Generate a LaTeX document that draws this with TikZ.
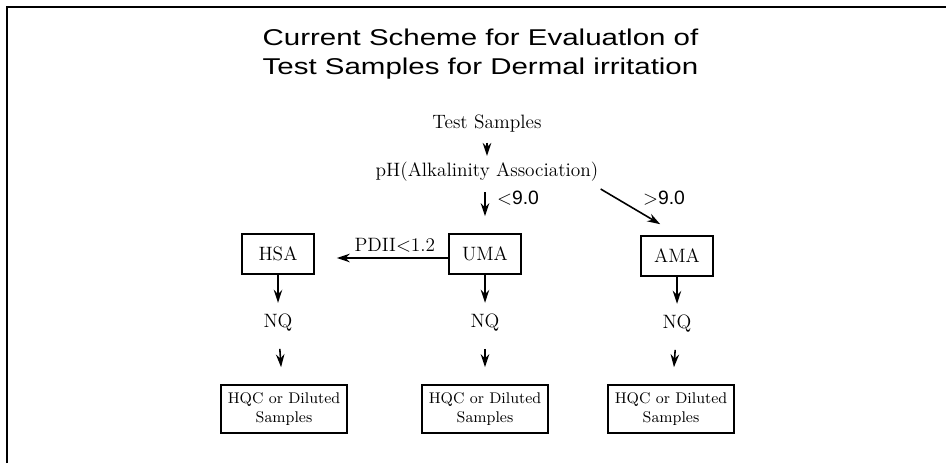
\documentclass[tikz,border=0pt]{standalone}
\usepackage{fontspec}
\newfontfamily\headfont{Liberation Sans}
\usetikzlibrary{positioning, arrows.meta}
\tikzset{
>={Stealth[length=2.6mm,width=1.7mm]}, % filled heads as in the scan
every node/.style={font=\fontsize{11}{13}\selectfont},
txt/.style={inner sep=0pt}, % plain labels, no padding
box/.style={draw, line width=0.9pt, minimum width=1.44cm, minimum height=0.8cm, inner sep=2pt},
outbox/.style={draw, line width=0.9pt, minimum width=2.52cm, minimum height=0.96cm, inner sep=2pt, align=center, font=\fontsize{8.8}{10.8}\selectfont},
arr/.style={->, line width=0.9pt},
}
\newcommand{\wide}[1]{\scalebox{1.29}[1]{#1}} % the heading face is a wide grotesque

\begin{document}
\begin{tikzpicture}
\useasboundingbox (0,0) rectangle (18.92,-9.26);
\draw[line width=1.4pt] (0.14,-9.26) -- (0.14,-0.14) -- (18.92,-0.14);

\node[align=center, font=\headfont\fontsize{13}{16.5}\selectfont] (title) at (9.61,-1.08)
  {\wide{Current Scheme for Evaluatlon of}\\\wide{Test Samples for Dermal irritation}};

\node[txt] (test) at (9.74,-2.48) {Test Samples};
\node[txt] (ph) at (9.74,-3.44) {pH(Alkalinity Association)};

% middle row
\node[box] (hsa) at (5.56,-5.08) {HSA};
\node[box] (uma) at (9.7,-5.08) {UMA};
\node[box] (ama) at (13.54,-5.12) {AMA};

\node[txt, below=0.78cm of hsa] (nq1) {NQ};
\node[txt, below=0.78cm of uma] (nq2) {NQ};
\node[txt, below=0.76cm of ama] (nq3) {NQ};

\node[outbox] (out1) at (5.68,-8.18) {HQC or Diluted\\Samples};
\node[outbox] (out2) at (9.7,-8.18) {HQC or Diluted\\Samples};
\node[outbox] (out3) at (13.42,-8.18) {HQC or Diluted\\Samples};

\node[txt] (lt) at (10.36,-3.96) {\headfont$<$9.0};
\node[txt] (gt) at (13.28,-3.96) {\headfont$>$9.0};

\draw[arr, shorten <=0.19cm, shorten >=0.12cm] (test) -- (ph);
\draw[arr, shorten <=0.2cm, shorten >=0.34cm] (ph.south -| uma) -- (uma);
\draw[arr] ([shift={(0.04,-0.14)}]ph.south east) -- ([shift={(0.4,0.22)}]ama.north west);
\draw[arr, shorten >=0.44cm] ([yshift=-0.08cm]uma.west) -- ([yshift=-0.08cm]hsa.east)
  node[pos=0.4, above=0.1cm, txt] (pdii) {PDII$<$1.2};

\foreach \b/\n/\o in {hsa/nq1/out1, uma/nq2/out2, ama/nq3/out3}{
  \draw[arr, shorten >=0.22cm] (\b) -- (\n);
  \draw[arr, shorten <=0.34cm, shorten >=0.34cm] (\n) -- (\o);
}
\end{tikzpicture}
\end{document}
